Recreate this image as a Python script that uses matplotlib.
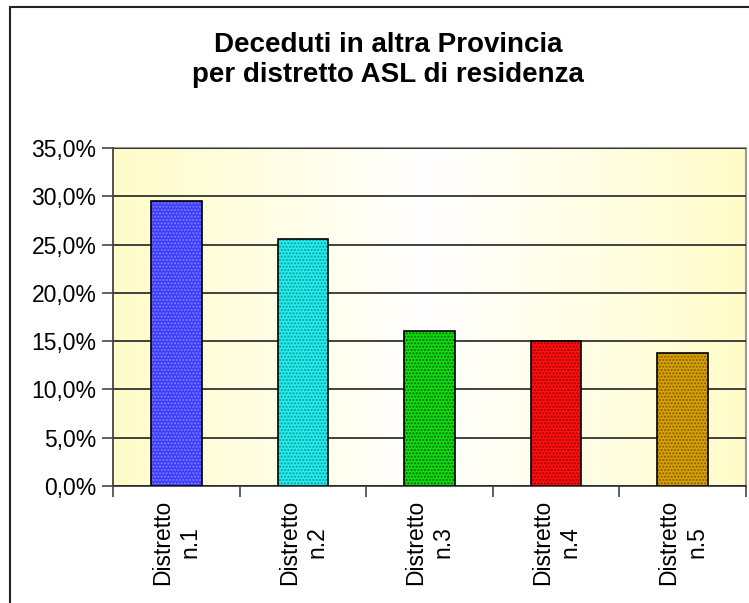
import matplotlib
matplotlib.use('Agg')
import matplotlib.pyplot as plt
import matplotlib.patches as mpatches
import numpy as np

plt.rcParams['font.family'] = ['Liberation Sans', 'DejaVu Sans']

categories = ['Distretto\nn.1', 'Distretto\nn.2', 'Distretto\nn.3', 'Distretto\nn.4', 'Distretto\nn.5']
values = [29.5, 25.6, 16.1, 15.0, 13.8]
bar_colors = ['#3c3cff', '#22eeee', '#11dd11', '#ff1010', '#d9a000']
dot_colors = ['#8080ff', '#119999', '#006600', '#990000', '#806000']
yticks = [0, 5, 10, 15, 20, 25, 30, 35]
title = 'Deceduti in altra Provincia\nper distretto ASL di residenza'

fig = plt.figure(figsize=(7.49, 6.03), dpi=100)
ax = fig.add_axes([113/749, 117/603, 633/749, 338/603])

# outer chart border (extends past the image on right/bottom)
fig.patches.append(mpatches.Rectangle((10/749, -0.2), 1.2, 1 - 7/603 + 0.2,
                                      transform=fig.transFigure, fill=False,
                                      edgecolor='#222222', linewidth=1.5))

# yellow-white-yellow horizontal gradient background
t = np.abs(np.linspace(-1, 1, 256))
yellow = np.array([1.0, 0.99, 0.79])
white = np.array([1.0, 1.0, 1.0])
grad = white[None, :] * (1 - t[:, None]) + yellow[None, :] * t[:, None]
ax.imshow(grad[None, :, :], extent=(-0.5, 4.5, 0, 35), aspect='auto', zorder=0)

x = np.arange(len(categories))
ax.bar(x, values, width=0.4, color=bar_colors, edgecolor=dot_colors,
       hatch='.....', linewidth=0, zorder=3)
ax.bar(x, values, width=0.4, fill=False, edgecolor='black', linewidth=1.2, zorder=4)

ax.set_xlim(-0.5, 4.5)
ax.set_ylim(0, 35)
ax.set_yticks(yticks)
ax.set_yticklabels([f'{v:.1f}%'.replace('.', ',') for v in yticks], fontsize=16.5)
ax.yaxis.grid(True, color='#222222', linewidth=1.2)
ax.set_axisbelow(False)
for gl in ax.get_ygridlines():
    gl.set_zorder(1)

ax.set_xticks(x)
ax.set_xticklabels(categories, rotation=90, fontsize=16.5, ha='center',
                   multialignment='center', linespacing=1.25)
ax.tick_params(axis='x', length=0, pad=10)
ax.set_xticks(np.arange(-0.5, 5, 1), minor=True)
ax.tick_params(axis='x', which='minor', length=8, width=1.2, color='#444444')
ax.tick_params(axis='y', length=8, width=1.2, color='#444444', pad=4)

for s in ['top', 'right']:
    ax.spines[s].set_color('#999999')
    ax.spines[s].set_linewidth(1.5)
for s in ['left', 'bottom']:
    ax.spines[s].set_color('#444444')
    ax.spines[s].set_linewidth(1.3)
ax.spines['left'].set_zorder(5)

fig.text(388/749, 1 - 32/603, title, ha='center', va='top', fontsize=20,
         fontweight='bold', linespacing=1.22)

fig.savefig('out.png', dpi=100)
